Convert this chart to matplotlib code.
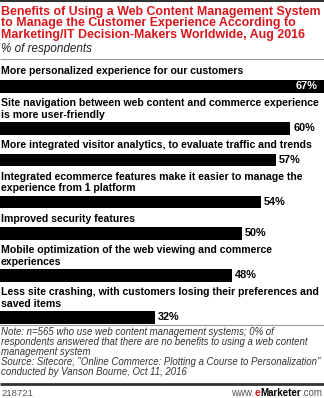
import matplotlib.pyplot as plt
import matplotlib.transforms as mtransforms

# chart data
labels = [
    "More personalized experience for our customers",
    "Site navigation between web content and commerce experience\nis more user-friendly",
    "More integrated visitor analytics, to evaluate traffic and trends",
    "Integrated ecommerce features make it easier to manage the\nexperience from 1 platform",
    "Improved security features",
    "Mobile optimization of the web viewing and commerce\nexperiences",
    "Less site crashing, with customers losing their preferences and\nsaved items",
]
values = [67, 60, 57, 54, 50, 48, 32]

title_lines = ["Benefits of Using a Web Content Management System",
               "to Manage the Customer Experience According to",
               "Marketing/IT Decision-Makers Worldwide, Aug 2016"]
subtitle = "% of respondents"
note = ("Note: n=565 who use web content management systems; 0% of\n"
        "respondents answered that there are no benefits to using a web content\n"
        "management system\n"
        "Source: Sitecore, \"Online Commerce: Plotting a Course to Personalization\"\n"
        "conducted by Vanson Bourne, Oct 11, 2016")
chart_id = "218721"

W, H = 324, 398
RED = "#d8161c"
FONT = "Liberation Sans"

fig = plt.figure(figsize=(W / 100, H / 100), dpi=100)
ax = fig.add_axes([0, 0, 1, 1])
ax.set_xlim(0, 67)
ax.set_ylim(H, 0)
ax.axis("off")

# x in pixels, y in axis data (= pixels from top)
px = mtransforms.blended_transform_factory(
    mtransforms.Affine2D().scale(1 / W) + fig.transFigure, ax.transData)


def hline(y, lw, color):
    ax.plot([0, 67], [y, y], color=color, lw=lw, solid_capstyle="butt")


hline(0.6, 1.5, "#333333")
for i, t in enumerate(title_lines):
    ax.text(1, 11.7 + 11.7 * i, t, transform=px, color=RED, fontsize=8.9,
            fontweight="bold", family=FONT, va="center")
ax.text(1, 49, subtitle, transform=px, fontsize=8.4, style="italic",
        family=FONT, va="center", color="#222222")
hline(59, 0.8, "#999999")

# bars with labels stacked above
line_h = 10.5
bar_h = 12.5
y = 71.5
for lab, val in zip(labels, values):
    n = lab.count("\n") + 1
    ax.text(1, y - 5, lab, transform=px, fontsize=7.6, fontweight="bold",
            family=FONT, va="top", linespacing=1.2, color="black")
    top = y + line_h * (n - 1) + 8.5
    ax.barh(top + bar_h / 2, val, height=bar_h, color="black", align="center")
    if val == max(values):
        ax.text(val - 6 * 67 / W, top + bar_h / 2, f"{val}%", color="white",
                fontsize=7.8, fontweight="bold", family=FONT, ha="right", va="center")
    else:
        ax.text(val + 3 * 67 / W, top + bar_h / 2, f"{val}%", color="black",
                fontsize=7.8, fontweight="bold", family=FONT, ha="left", va="center")
    y = top + bar_h + 10.5

hline(325, 0.8, "#999999")
ax.text(1, 327, note, transform=px, fontsize=6.9, style="italic",
        family=FONT, va="top", linespacing=1.0, color="#333333")
hline(384, 2, "#333333")
ax.text(1, 393, chart_id, transform=px, fontsize=6.8, family=FONT,
        va="center", color="#555555")

# right-aligned eMarketer logo built from pieces
t1 = fig.text(1 - 2 / W, 1 - 393 / H, ".com", fontsize=7, family=FONT,
              va="center", ha="right", color="#555555")
fig.canvas.draw()
r = fig.canvas.get_renderer()
bb = t1.get_window_extent(r)
t2 = fig.text(bb.x0 / fig.bbox.width, 1 - 393 / H, "Marketer", fontsize=7,
              family=FONT, fontweight="bold", va="center", ha="right", color="black")
bb = t2.get_window_extent(r)
t3 = fig.text(bb.x0 / fig.bbox.width, 1 - 393 / H, "e", fontsize=7.5,
              family=FONT, fontweight="bold", va="center", ha="right", color=RED)
bb = t3.get_window_extent(r)
fig.text(bb.x0 / fig.bbox.width, 1 - 393 / H, "www.", fontsize=7,
         family=FONT, va="center", ha="right", color="#555555")

fig.savefig("out.png", dpi=100)
